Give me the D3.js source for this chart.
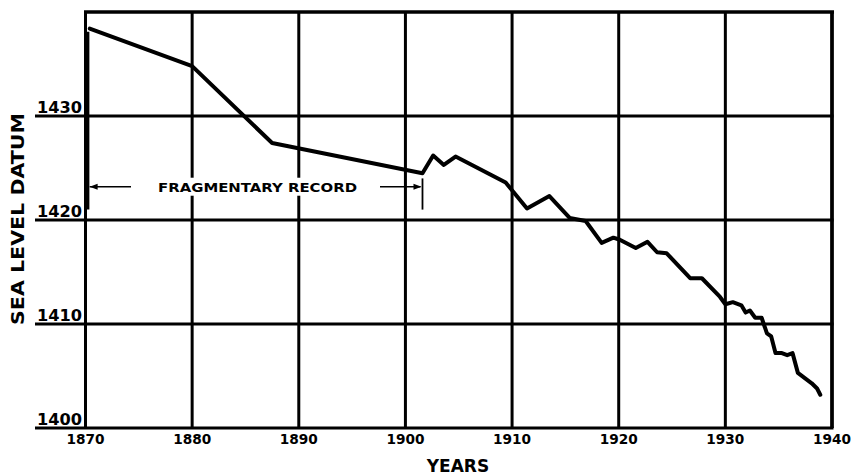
<!DOCTYPE html>
<html><head><meta charset="utf-8">
<script src="https://cdn.jsdelivr.net/npm/d3@7"></script>
<style>body{margin:0;background:#fff}svg{display:block}text{font-family:"DejaVu Sans",sans-serif;font-weight:bold;fill:#000}</style>
</head><body>
<script>
// ---- data ----
const years = [1870.4,1880.0,1887.5,1901.6,1902.6,1903.6,1904.7,1909.4,1911.4,1913.5,1915.4,1916.9,1918.4,1919.5,1920.1,1921.6,1922.7,1923.6,1924.5,1926.7,1927.8,1929.5,1930.0,1930.7,1931.5,1931.9,1932.3,1932.8,1933.4,1933.9,1934.3,1934.7,1935.3,1935.8,1936.3,1936.8,1938.1,1938.6,1938.9];
const levels = [1438.4,1434.8,1427.4,1424.5,1426.2,1425.3,1426.1,1423.6,1421.1,1422.3,1420.2,1419.9,1417.8,1418.3,1418.1,1417.3,1417.9,1416.9,1416.8,1414.4,1414.4,1412.6,1411.9,1412.1,1411.8,1411.1,1411.3,1410.6,1410.6,1409.1,1408.8,1407.2,1407.2,1407.0,1407.2,1405.3,1404.3,1403.8,1403.2];
const xTicks = [1870,1880,1890,1900,1910,1920,1930,1940];
const yTicks = [1400,1410,1420,1430];
const fragmentRange = [1438.1, 1421.0];   // vertical bar at start
const fragmentYears = [1870.2, 1901.6];   // span of fragmentary record
const fragmentLevel = 1423.2;
const fragmentTick = [1424.0, 1421.0];
const annotation = "FRAGMENTARY RECORD";
const xTitle = "YEARS", yTitle = "SEA LEVEL DATUM";

const W = 852, H = 475;
const svg = d3.select("body").append("svg").attr("width", W).attr("height", H);
const x = d3.scaleLinear().domain([1870, 1940]).range([85.5, 832]);
const y = d3.scaleLinear().domain([1400, 1440]).range([428, 12]);

const g = svg.append("g");
// vertical grid
g.selectAll("line.v").data(xTicks).join("line")
  .attr("x1", d => x(d)).attr("x2", d => x(d)).attr("y1", y(1440)).attr("y2", y(1400))
  .attr("stroke", "#000").attr("stroke-width", 3);
// horizontal grid (extend under labels)
g.selectAll("line.h").data(yTicks).join("line")
  .attr("x1", 35).attr("x2", x(1940) + 1.5).attr("y1", d => y(d)).attr("y2", d => y(d))
  .attr("stroke", "#000").attr("stroke-width", 3);
// top border
g.append("line").attr("x1", x(1870) - 1.5).attr("x2", x(1940) + 2).attr("y1", y(1440)).attr("y2", y(1440))
  .attr("stroke", "#000").attr("stroke-width", 3.5);
g.append("line").attr("x1", x(1940)).attr("x2", x(1940)).attr("y1", y(1440)).attr("y2", y(1400))
  .attr("stroke", "#000").attr("stroke-width", 3.5);

// y tick labels
g.selectAll("text.yt").data(yTicks).join("text")
  .attr("x", 82).attr("y", d => y(d) - 3).attr("text-anchor", "end")
  .attr("font-size", 15).attr("textLength", 45).attr("lengthAdjust", "spacingAndGlyphs")
  .text(d => d);
// x tick labels
g.selectAll("text.xt").data(xTicks).join("text")
  .attr("x", d => x(d)).attr("y", 444).attr("text-anchor", "middle")
  .attr("font-size", 14).attr("textLength", 38).attr("lengthAdjust", "spacingAndGlyphs")
  .text(d => d);
// axis titles
svg.append("text").attr("x", 458).attr("y", 472).attr("text-anchor", "middle")
  .attr("font-size", 17).text(xTitle);
svg.append("text").attr("transform", "translate(24,219) rotate(-90)").attr("text-anchor", "middle")
  .attr("font-size", 17).attr("textLength", 212).attr("lengthAdjust", "spacingAndGlyphs").text(yTitle);

// fragmentary annotation
const fy = y(fragmentLevel);
const tx0 = 158, tx1 = 357;
g.append("rect").attr("x", tx0 - 6).attr("y", fy - 9).attr("width", tx1 - tx0 + 12).attr("height", 18).attr("fill", "#fff");
g.append("text").attr("x", (tx0 + tx1) / 2).attr("y", fy + 5).attr("text-anchor", "middle")
  .attr("font-size", 12.5).attr("textLength", tx1 - tx0).attr("lengthAdjust", "spacingAndGlyphs").text(annotation);
g.append("line").attr("x1", x(fragmentYears[0]) + 2).attr("x2", 131).attr("y1", fy).attr("y2", fy).attr("stroke", "#000").attr("stroke-width", 1.5);
g.append("line").attr("x1", 380).attr("x2", x(fragmentYears[1]) - 2).attr("y1", fy).attr("y2", fy).attr("stroke", "#000").attr("stroke-width", 1.5);
const ax0 = x(fragmentYears[0]) + 2, ax1 = x(fragmentYears[1]) - 1;
g.append("path").attr("d", `M${ax0},${fy} L${ax0 + 8},${fy - 3} L${ax0 + 8},${fy + 3}Z`).attr("fill", "#000");
g.append("path").attr("d", `M${ax1},${fy} L${ax1 - 8},${fy - 3} L${ax1 - 8},${fy + 3}Z`).attr("fill", "#000");
g.append("line").attr("x1", x(fragmentYears[1])).attr("x2", x(fragmentYears[1]))
  .attr("y1", y(fragmentTick[0])).attr("y2", y(fragmentTick[1])).attr("stroke", "#000").attr("stroke-width", 1.8);
// vertical bar of fragmentary data
g.append("line").attr("x1", x(fragmentYears[0])).attr("x2", x(fragmentYears[0]))
  .attr("y1", y(fragmentRange[0])).attr("y2", y(fragmentRange[1])).attr("stroke", "#000").attr("stroke-width", 3.5);

// data line
const pts = years.map((d, i) => [d, levels[i]]);
g.append("path").datum(pts)
  .attr("d", d3.line().x(d => x(d[0])).y(d => y(d[1])))
  .attr("fill", "none").attr("stroke", "#000").attr("stroke-width", 4).attr("stroke-linejoin", "round").attr("stroke-linecap", "round");
</script>
</body></html>
